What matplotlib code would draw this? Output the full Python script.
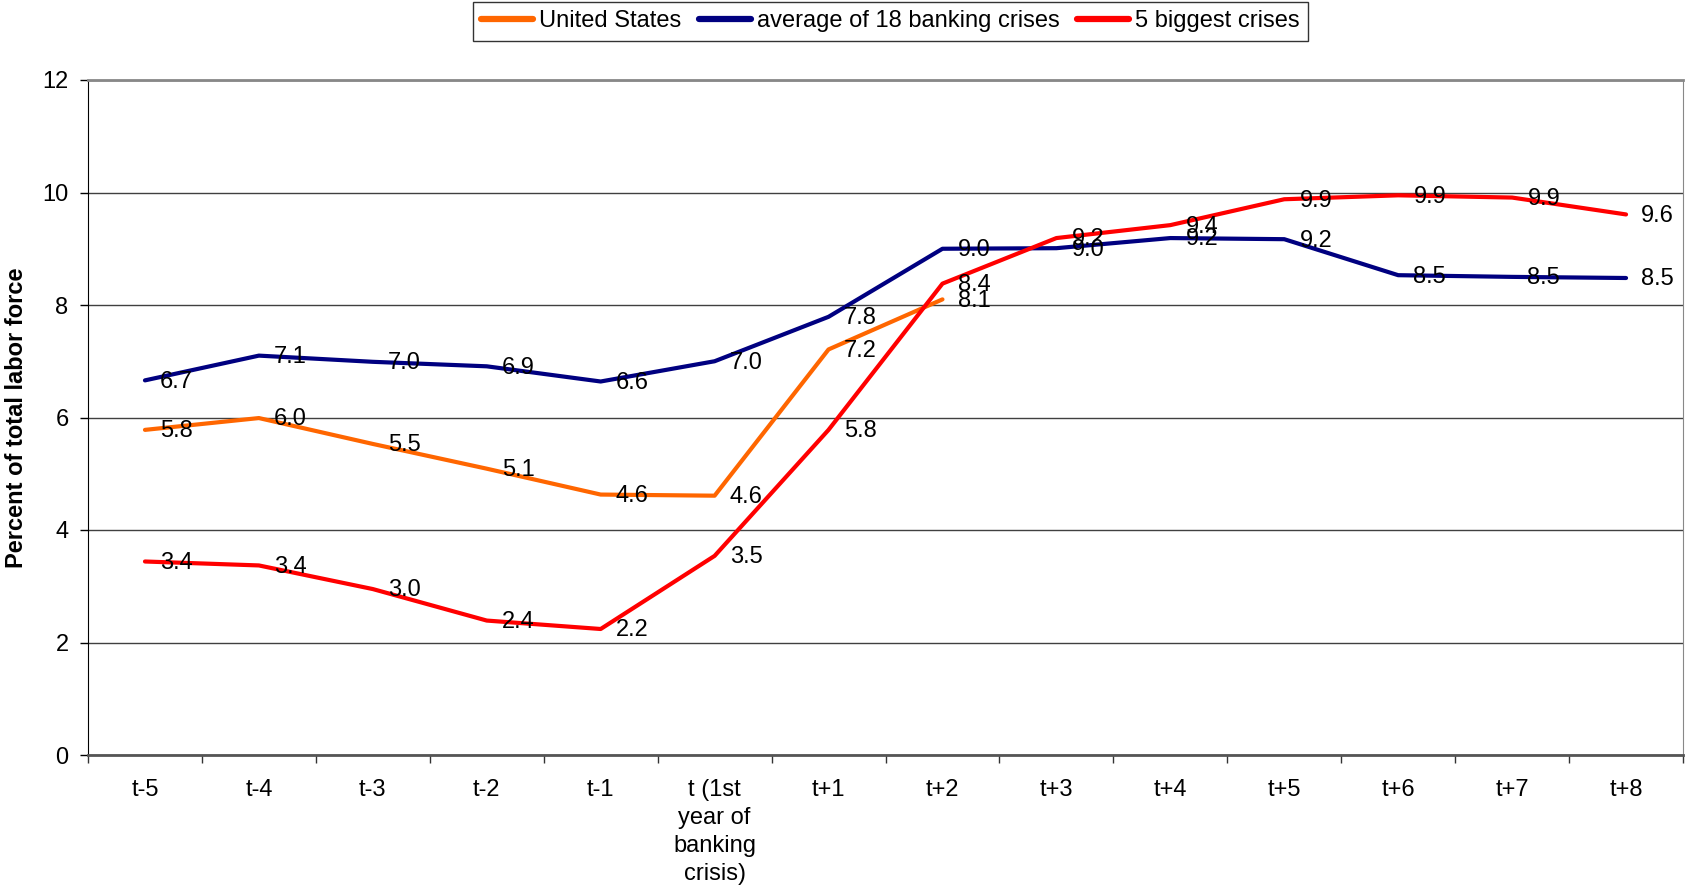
import numpy as np
import matplotlib
matplotlib.use("Agg")
import matplotlib.pyplot as plt

plt.rcParams['font.family'] = ['Liberation Sans', 'DejaVu Sans']

# category labels along the x axis
periods = ['t-5', 't-4', 't-3', 't-2', 't-1', 't (1st\nyear of\nbanking\ncrisis)',
           't+1', 't+2', 't+3', 't+4', 't+5', 't+6', 't+7', 't+8']

# unemployment rate, percent of total labor force
united_states = [5.78, 5.99, 5.53, 5.09, 4.63, 4.61, 7.21, 8.10]
avg_18_crises = [6.66, 7.10, 6.99, 6.91, 6.64, 7.00, 7.79, 9.00, 9.01, 9.19, 9.17, 8.53, 8.50, 8.48]
big5_crises = [3.44, 3.37, 2.95, 2.39, 2.24, 3.54, 5.78, 8.38, 9.19, 9.42, 9.88, 9.95, 9.91, 9.61]

series = [
    ('United States', united_states, '#FF6600'),
    ('average of 18 banking crises', avg_18_crises, '#000080'),
    ('5 biggest crises', big5_crises, '#FF0000'),
]

FS = 17

fig = plt.figure(figsize=(16.86, 8.92), dpi=100)
ax = fig.add_axes([88/1686, 1-755/892, (1683-88)/1686, (755-80)/892])

x = np.arange(len(periods))
for name, vals, col in series:
    xs = x[:len(vals)]
    ax.plot(xs, vals, color=col, linewidth=3, label=name, solid_capstyle='round')
    for xi, v in zip(xs, vals):
        ax.annotate(f'{v:.1f}', (xi, v), xytext=(11, -1), textcoords='offset points',
                    ha='left', va='center', fontsize=FS, color='black')

ax.set_xlim(-0.5, len(periods) - 0.5)
ax.set_ylim(0, 12)
ax.set_yticks(range(0, 13, 2))
ax.set_xticks(x)
ax.set_xticklabels(periods, fontsize=FS, linespacing=1.37)
ax.set_xticks(np.arange(-0.5, len(periods), 1), minor=True)
ax.tick_params(axis='x', which='major', length=0, pad=17)
ax.tick_params(axis='x', which='minor', length=6, width=1, direction='out', color='#333333')
ax.tick_params(axis='y', length=6, width=1, direction='out', labelsize=FS, pad=8)

ax.grid(axis='y', color='#404040', linewidth=1)
ax.set_axisbelow(True)
ax.spines['left'].set_color('black')
ax.spines['bottom'].set_color('#555555')
ax.spines['bottom'].set_linewidth(2)
ax.spines['top'].set_color('#888888')
ax.spines['top'].set_linewidth(2)
ax.spines['right'].set_color('#888888')

ax.set_ylabel('Percent of total labor force', fontsize=FS, fontweight='bold')
ax.yaxis.label.set_va('center')
ax.yaxis.set_label_coords((17 - 88) / 1595, 0.5)

leg = fig.legend(loc='upper left', bbox_to_anchor=(473/1686, 1-2/892), ncol=3,
                 fontsize=FS, frameon=True, fancybox=False, edgecolor='black',
                 handlelength=2.2, handletextpad=0.25, columnspacing=0.75,
                 borderpad=0.35, borderaxespad=0)
leg.get_frame().set_linewidth(1)
for h in leg.get_lines():
    h.set_linewidth(4.5)

fig.savefig('out.png', dpi=100)
